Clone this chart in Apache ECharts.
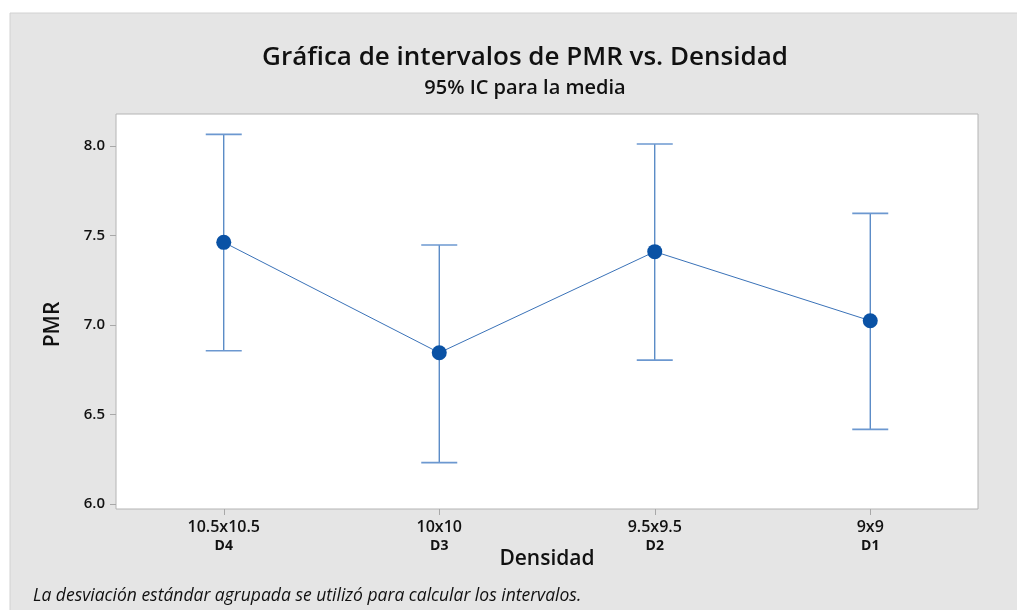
<!DOCTYPE html>
<html>
<head>
<meta charset="utf-8">
<script src="https://cdn.jsdelivr.net/npm/echarts@6/dist/echarts.min.js"></script>
<style>
    html, body {margin:0;padding:0;background:#fff;}
    #chart {width:1017px;height:610px;}
</style>
</head>
<body>
<div id="chart"></div>
<script>
    // datos
    var categories = ['10.5x10.5', '10x10', '9.5x9.5', '9x9'];
    var codes = ['D4', 'D3', 'D2', 'D1'];
    var means = [7.462, 6.845, 7.410, 7.024];
    var upper = [8.065, 7.447, 8.011, 7.624];
    var lower = [6.856, 6.231, 6.804, 6.417];
    var yTicks = [6.0, 6.5, 7.0, 7.5, 8.0];

    var font = '"Open Sans", "Noto Sans", sans-serif';

    var barData = categories.map(function (c, i) {
        return [i, lower[i], upper[i]];
    });

    var chart = echarts.init(document.getElementById('chart'));

    var option = {
        backgroundColor: '#ffffff',
        animation: false,
        graphic: [
            {
                type: 'rect',
                z: -10,
                shape: {x: 10, y: 13, width: 1020, height: 605},
                style: {fill: '#e5e5e5', stroke: '#d2d2d2', lineWidth: 1}
            },
            {
                type: 'text',
                left: 33,
                top: 587,
                style: {
                    text: 'La desviación estándar agrupada se utilizó para calcular los intervalos.',
                    font: 'italic 17.5px ' + font,
                    fill: '#111'
                }
            }
        ],
        title: {
            text: 'Gráfica de intervalos de PMR vs. Densidad',
            subtext: '95% IC para la media',
            left: 520,
            textAlign: 'center',
            top: 40,
            itemGap: 7,
            textStyle: {fontFamily: font, fontSize: 26, fontWeight: 600, color: '#111'},
            subtextStyle: {fontFamily: font, fontSize: 20, fontWeight: 600, color: '#111'}
        },
        grid: {
            left: 116, top: 114, right: 39, bottom: 101,
            show: true,
            backgroundColor: '#ffffff',
            borderColor: '#b4b4b4',
            borderWidth: 1
        },
        xAxis: {
            type: 'category',
            data: categories,
            name: 'Densidad',
            nameLocation: 'middle',
            nameGap: 40,
            nameMoveOverlap: false,
            nameTextStyle: {fontFamily: font, fontSize: 21, fontWeight: 600, color: '#111'},
            axisLine: {show: false},
            axisTick: {show: true, alignWithLabel: true, length: 6, lineStyle: {color: '#a8a8a8'}},
            splitLine: {show: false},
            axisLabel: {
                margin: 7,
                interval: 0,
                formatter: function (v, i) {
                    return '{a|' + v + '}\n{b|' + codes[i] + '}';
                },
                rich: {
                    a: {fontFamily: font, fontSize: 16, fontWeight: 600, color: '#111', lineHeight: 22},
                    b: {fontFamily: font, fontSize: 14, fontWeight: 700, color: '#111', lineHeight: 17}
                }
            }
        },
        yAxis: {
            type: 'value',
            min: 5.972,
            max: 8.179,
            name: 'PMR',
            nameLocation: 'middle',
            nameGap: 52,
            nameTextStyle: {fontFamily: font, fontSize: 21, fontWeight: 600, color: '#111', padding: [0, 26, 0, 0]},
            axisLine: {show: false},
            splitLine: {show: false},
            axisTick: {show: true, length: 6, customValues: yTicks, lineStyle: {color: '#a8a8a8'}},
            axisLabel: {
                customValues: yTicks,
                margin: 11,
                fontFamily: font,
                fontSize: 15,
                fontWeight: 600,
                color: '#111',
                formatter: function (v) { return v.toFixed(1); }
            }
        },
        series: [
            {
                type: 'custom',
                z: 2,
                data: barData,
                renderItem: function (params, api) {
                    var x = api.value(0);
                    var lo = api.coord([x, api.value(1)]);
                    var hi = api.coord([x, api.value(2)]);
                    var half = 18;
                    var st = {stroke: '#3f78bd', lineWidth: 1.2};
                    var cap = {stroke: '#6c98d0', lineWidth: 1.6};
                    return {
                        type: 'group',
                        children: [
                            {type: 'line', shape: {x1: hi[0], y1: hi[1], x2: lo[0], y2: lo[1]}, style: st},
                            {type: 'line', shape: {x1: hi[0] - half, y1: hi[1], x2: hi[0] + half, y2: hi[1]}, style: cap},
                            {type: 'line', shape: {x1: lo[0] - half, y1: lo[1], x2: lo[0] + half, y2: lo[1]}, style: cap}
                        ]
                    };
                }
            },
            {
                type: 'line',
                z: 3,
                data: means,
                symbol: 'circle',
                symbolSize: 15,
                lineStyle: {color: '#3a72b8', width: 1},
                itemStyle: {color: '#0a52a5'}
            }
        ]
    };

    chart.setOption(option);
</script>
</body>
</html>
